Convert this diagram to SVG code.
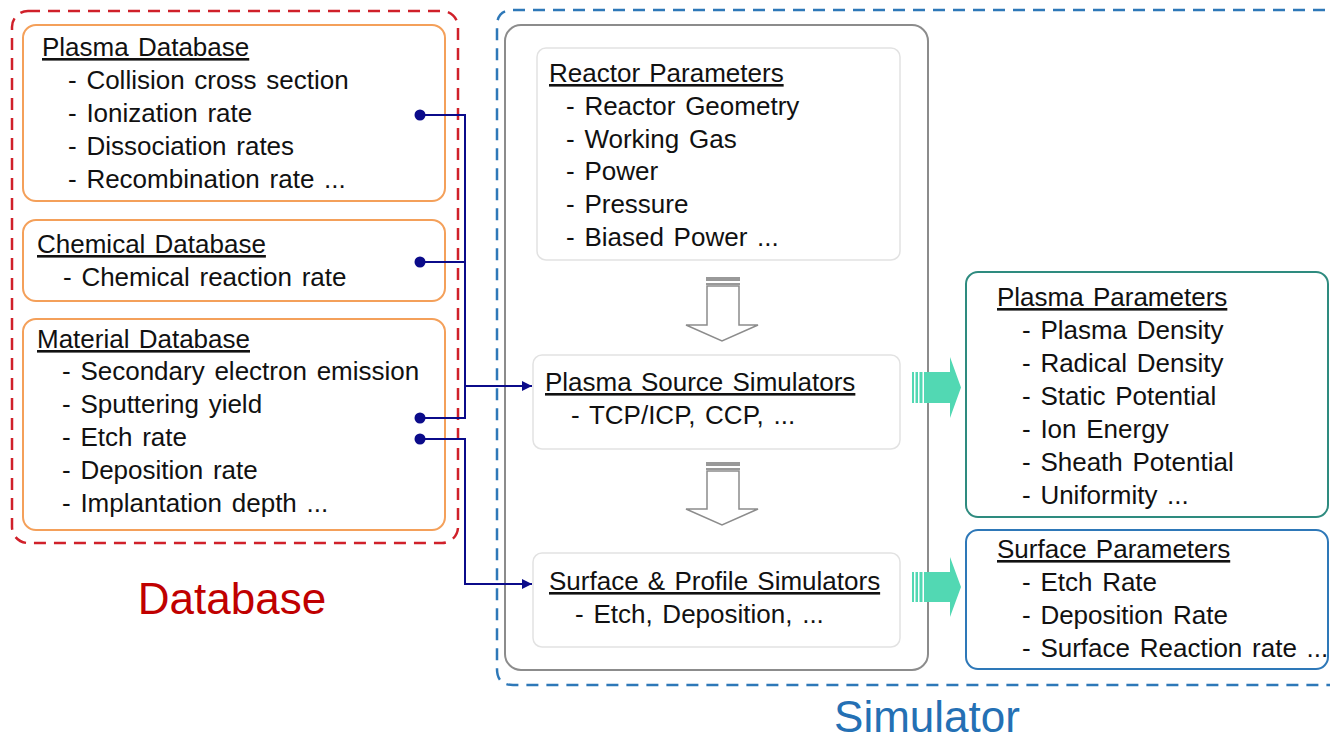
<svg xmlns="http://www.w3.org/2000/svg" width="1330" height="742" viewBox="0 0 1330 742">
<defs>
<style>
text{font-family:"Liberation Sans",Arial,sans-serif;fill:#111}
.t{font-size:26px;word-spacing:2.5px}
.h{font-size:26px;word-spacing:2px;text-decoration:underline}
.big{font-size:44px}
.ob{fill:#fff;stroke:#f4a05a;stroke-width:2}
.sb{fill:#fff;stroke:#e2e2e2;stroke-width:1.5}
.hol{fill:#fff;stroke:#8c8c8c;stroke-width:1.5}
.conn{fill:none;stroke:#0b0b8a;stroke-width:2}
.dot{fill:#0b0b8a}
.teal{fill:#52d8b3}
</style>
<marker id="ah" viewBox="0 0 10 10" refX="10" refY="5" markerWidth="10" markerHeight="10" markerUnits="userSpaceOnUse" orient="auto">
<path d="M0,0 L10,5 L0,10 z" fill="#0b0b8a"/>
</marker>
</defs>
<rect width="1330" height="742" fill="#fff"/>

<g id="database-group">
<rect x="12" y="11" width="446" height="532" rx="16" fill="none" stroke="#d0202a" stroke-width="2.5" stroke-dasharray="12,8"/>
<text class="big" x="232" y="614" text-anchor="middle" style="fill:#c00000">Database</text>
</g>

<g id="simulator-group">
<path d="M1345,10 H513 Q497,10 497,26 V669 Q497,685 513,685 H1345" fill="none" stroke="#2e78b8" stroke-width="2.5" stroke-dasharray="12,8"/>
<text class="big" x="927" y="732" text-anchor="middle" style="fill:#2470b4">Simulator</text>
<rect x="505" y="25" width="423" height="645" rx="16" fill="none" stroke="#8c8c8c" stroke-width="2"/>
</g>

<g id="plasma-db">
<rect class="ob" x="23" y="25" width="422" height="176" rx="13"/>
<text class="h" x="42" y="56">Plasma Database</text>
<text class="t" x="68" y="89">- Collision cross section</text>
<text class="t" x="68" y="122">- Ionization rate</text>
<text class="t" x="68" y="155">- Dissociation rates</text>
<text class="t" x="68" y="188">- Recombination rate ...</text>
</g>

<g id="chemical-db">
<rect class="ob" x="23" y="220" width="422" height="81" rx="13"/>
<text class="h" x="37" y="253">Chemical Database</text>
<text class="t" x="63" y="286">- Chemical reaction rate</text>
</g>

<g id="material-db">
<rect class="ob" x="23" y="319" width="422" height="211" rx="13"/>
<text class="h" x="37" y="348">Material Database</text>
<text class="t" x="62" y="380">- Secondary electron emission</text>
<text class="t" x="62" y="413">- Sputtering yield</text>
<text class="t" x="62" y="446">- Etch rate</text>
<text class="t" x="62" y="479">- Deposition rate</text>
<text class="t" x="62" y="512">- Implantation depth ...</text>
</g>

<g id="reactor-params">
<rect class="sb" x="537" y="48" width="363" height="212" rx="9"/>
<text class="h" x="549" y="82">Reactor Parameters</text>
<text class="t" x="566" y="115">- Reactor Geometry</text>
<text class="t" x="566" y="148">- Working Gas</text>
<text class="t" x="566" y="180">- Power</text>
<text class="t" x="566" y="213">- Pressure</text>
<text class="t" x="566" y="246">- Biased Power ...</text>
</g>

<g id="plasma-source-sim">
<rect class="sb" x="533" y="355" width="367" height="94" rx="9"/>
<text class="h" x="545" y="391">Plasma Source Simulators</text>
<text class="t" x="571" y="424">- TCP/ICP, CCP, ...</text>
</g>

<g id="surface-profile-sim">
<rect class="sb" x="533" y="553" width="367" height="94" rx="9"/>
<text class="h" x="549" y="590">Surface &amp; Profile Simulators</text>
<text class="t" x="575" y="623">- Etch, Deposition, ...</text>
</g>

<g id="plasma-params">
<rect x="966" y="272" width="362" height="245" rx="12" fill="#fff" stroke="#2e8b7f" stroke-width="2"/>
<text class="h" x="997" y="306">Plasma Parameters</text>
<text class="t" x="1022" y="339">- Plasma Density</text>
<text class="t" x="1022" y="372">- Radical Density</text>
<text class="t" x="1022" y="405">- Static Potential</text>
<text class="t" x="1022" y="438">- Ion Energy</text>
<text class="t" x="1022" y="471">- Sheath Potential</text>
<text class="t" x="1022" y="504">- Uniformity ...</text>
</g>

<g id="surface-params">
<rect x="966" y="530" width="362" height="139" rx="12" fill="#fff" stroke="#2e78b8" stroke-width="2"/>
<text class="h" x="997" y="558">Surface Parameters</text>
<text class="t" x="1022" y="591">- Etch Rate</text>
<text class="t" x="1022" y="624">- Deposition Rate</text>
<text class="t" x="1022" y="657">- Surface Reaction rate ...</text>
</g>

<g id="connectors">
<path class="conn" d="M420,115 H465 V418 H420"/>
<path class="conn" d="M420,262 H465"/>
<path class="conn" d="M465,386 H532" marker-end="url(#ah)"/>
<path class="conn" d="M420,439 H465 V584 H532" marker-end="url(#ah)"/>
<circle class="dot" cx="420" cy="115" r="5.5"/>
<circle class="dot" cx="420" cy="262" r="5.5"/>
<circle class="dot" cx="420" cy="418" r="5.5"/>
<circle class="dot" cx="420" cy="439" r="5.5"/>

<g id="hollow-arrow-1">
<rect x="706" y="277" width="34" height="4" fill="#999"/>
<rect x="706" y="283" width="34" height="2" fill="#999"/>
<path class="hol" d="M707,286 H739 V325 H758 L722,341 L686,325 H707 Z"/>
</g>
<g id="hollow-arrow-2">
<rect x="706" y="462" width="34" height="4" fill="#999"/>
<rect x="706" y="468" width="34" height="2" fill="#999"/>
<path class="hol" d="M707,471 H739 V509 H758 L722,525 L686,509 H707 Z"/>
</g>

<g id="teal-arrow-1">
<rect class="teal" x="912" y="372" width="2" height="31"/>
<rect class="teal" x="915.5" y="372" width="2.5" height="31"/>
<rect class="teal" x="919.5" y="372" width="3" height="31"/>
<path class="teal" d="M924,372 H950 V357 L961,387.5 L950,418 V403 H924 Z"/>
</g>
<g id="teal-arrow-2">
<rect class="teal" x="912" y="572" width="2" height="30"/>
<rect class="teal" x="915.5" y="572" width="2.5" height="30"/>
<rect class="teal" x="919.5" y="572" width="3" height="30"/>
<path class="teal" d="M924,572 H950 V557 L961,587 L950,617 V602 H924 Z"/>
</g>
</g>
</svg>
